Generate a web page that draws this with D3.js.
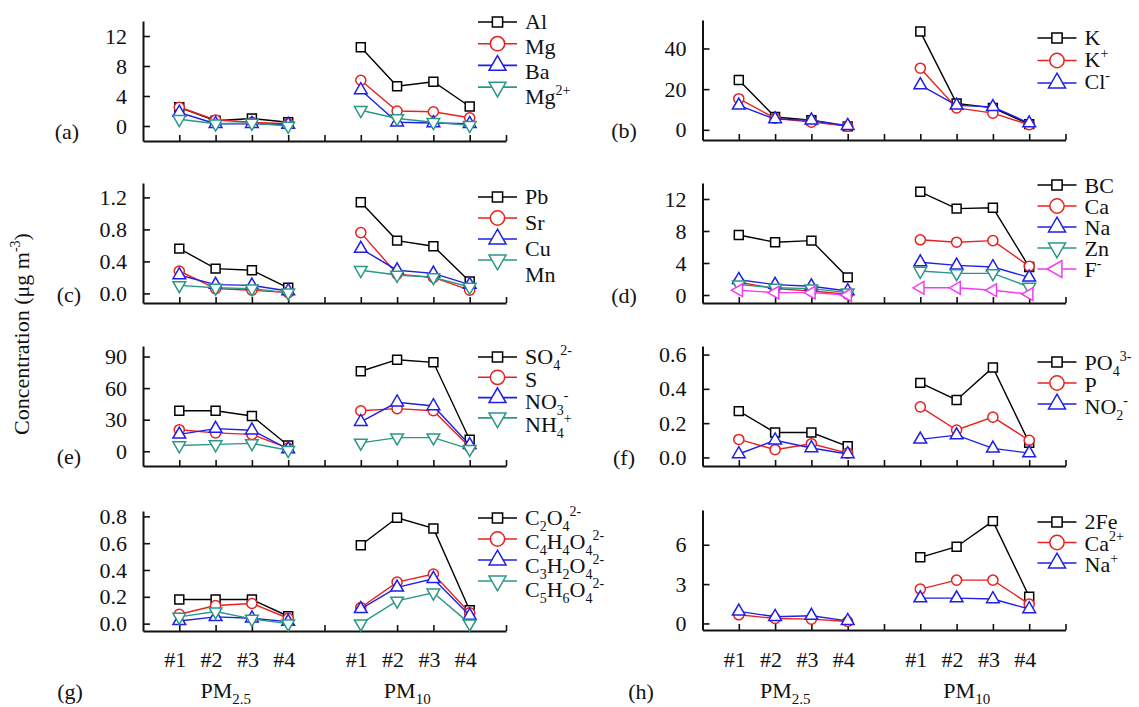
<!DOCTYPE html>
<html>
<head>
<meta charset="utf-8">
<script src="https://cdn.jsdelivr.net/npm/d3@7"></script>
<style>
  body { margin: 0; background: #fff; }
  text { font-family: "Liberation Serif", "Times New Roman", serif; }
</style>
</head>
<body>
<script>
var svgWidth = 1139;
var svgHeight = 707;

// categories
var sites = ["#1", "#2", "#3", "#4"];
var groups = ["PM_2.5", "PM_10"];
var seriesColors = ["#000000", "#e8211f", "#1f1fe6", "#2a9886", "#f23cf2"];

// (a)
var aNames = ["Al", "Mg", "Ba", "Mg^2+"];
var aPM25 = [[2.5, 0.7, 1.0, 0.5], [2.5, 0.8, 0.5, 0.3], [1.8, 0.3, 0.3, 0.2], [0.9, 0.3, 0.4, 0.0]];
var aPM10 = [[10.5, 5.3, 5.9, 2.6], [6.1, 2.0, 1.9, 1.1], [4.8, 0.5, 0.4, 0.3], [2.1, 1.0, 0.5, 0.1]];
var aTicks = [0, 4, 8, 12];

// (b)
var bNames = ["K", "K^+", "Cl^-"];
var bPM25 = [[24.5, 6.3, 4.7, 1.7], [15.3, 5.7, 3.8, 1.8], [12, 5.3, 4.7, 2.0]];
var bPM10 = [[48.3, 13, 10.8, 2.8], [30.3, 10.8, 8.2, 2.5], [22, 12, 11.3, 3.3]];
var bTicks = [0, 20, 40];

// (c)
var cNames = ["Pb", "Sr", "Cu", "Mn"];
var cPM25 = [[0.56, 0.31, 0.29, 0.07], [0.28, 0.06, 0.04, 0.01], [0.23, 0.11, 0.10, 0.03], [0.10, 0.07, 0.06, 0.01]];
var cPM10 = [[1.14, 0.66, 0.59, 0.15], [0.76, 0.24, 0.20, 0.04], [0.56, 0.29, 0.25, 0.11], [0.29, 0.23, 0.20, 0.08]];
var cTicks = [0, 0.4, 0.8, 1.2];

// (d)
var dNames = ["BC", "Ca", "Na", "Zn", "F^-"];
var dPM25 = [[7.5, 6.6, 6.8, 2.2], [1.6, 0.8, 0.5, 0.1], [1.9, 1.3, 1.1, 0.5], [1.3, 0.9, 0.8, 0.3], [0.6, 0.3, 0.3, 0.0]];
var dPM10 = [[12.9, 10.8, 10.9, 3.5], [6.9, 6.6, 6.8, 3.6], [4.1, 3.7, 3.5, 2.2], [3.0, 2.7, 2.7, 1.0], [0.9, 0.9, 0.6, 0.1]];
var dTicks = [0, 4, 8, 12];

// (e)
var eNames = ["SO_4^2-", "S", "NO_3^-", "NH_4^+"];
var ePM25 = [[38.5, 38.5, 33.5, 5.5], [20.5, 17.5, 16, 3], [16, 21.5, 20, 2], [5.5, 6.5, 7.5, 1]];
var ePM10 = [[76, 87, 84.5, 11], [38.5, 40.5, 38.5, 4], [28, 46.5, 43, 6], [8, 13, 13, 2]];
var eTicks = [0, 30, 60, 90];

// (f)
var fNames = ["PO_4^3-", "P", "NO_2^-"];
var fPM25 = [[0.27, 0.145, 0.145, 0.065], [0.105, 0.045, 0.08, 0.025], [0.02, 0.10, 0.055, 0.02]];
var fPM10 = [[0.435, 0.335, 0.525, 0.085], [0.295, 0.16, 0.235, 0.10], [0.105, 0.13, 0.053, 0.025]];
var fTicks = [0, 0.2, 0.4, 0.6];

// (g)
var gNames = ["C_2O_4^2-", "C_4H_4O_4^2-", "C_3H_2O_4^2-", "C_5H_6O_4^2-"];
var gPM25 = [[0.18, 0.18, 0.18, 0.055], [0.07, 0.135, 0.15, 0.04], [0.02, 0.05, 0.04, 0.015], [0.05, 0.09, 0.035, 0.0]];
var gPM10 = [[0.585, 0.79, 0.71, 0.10], [0.12, 0.31, 0.37, 0.08], [0.11, 0.27, 0.335, 0.06], [0.0, 0.17, 0.23, 0.0]];
var gTicks = [0, 0.2, 0.4, 0.6, 0.8];

// (h)
var hNames = ["2Fe", "Ca^2+", "Na^+"];
var hPM25 = [[null, null, null, null], [0.66, 0.38, 0.33, 0.15], [0.92, 0.51, 0.59, 0.2]];
var hPM10 = [[5.04, 5.85, 7.8, 2.04], [2.62, 3.3, 3.3, 1.47], [1.93, 1.93, 1.86, 1.1]];
var hTicks = [0, 3, 6];

// panel layout
var panels = [
  {id: "a", names: aNames, pm25: aPM25, pm10: aPM10, ticks: aTicks, fmt: "d",   dom: [-2, 14],      x: 143,   bottom: 141, leg: [22, 21.7, 22, 25],   lab: [67, 132]},
  {id: "b", names: bNames, pm25: bPM25, pm10: bPM10, ticks: bTicks, fmt: "d",   dom: [-5, 54],      x: 702.5, bottom: 140, leg: [38, 22.5, 38, 22],   lab: [624, 131]},
  {id: "c", names: cNames, pm25: cPM25, pm10: cPM10, ticks: cTicks, fmt: ".1f", dom: [-0.12, 1.38], x: 143,   bottom: 303, leg: [197, 21, 197, 26],   lab: [69, 295]},
  {id: "d", names: dNames, pm25: dPM25, pm10: dPM10, ticks: dTicks, fmt: "d",   dom: [-1, 14],      x: 702.5, bottom: 303, leg: [185, 21, 186, 21],   lab: [624, 296]},
  {id: "e", names: eNames, pm25: ePM25, pm10: ePM10, ticks: eTicks, fmt: "d",   dom: [-14, 100],    x: 143,   bottom: 466, leg: [357, 20.3, 357, 22.7], lab: [69, 457]},
  {id: "f", names: fNames, pm25: fPM25, pm10: fPM10, ticks: fTicks, fmt: ".1f", dom: [-0.05, 0.65], x: 702.5, bottom: 466, leg: [362, 21, 363, 22],   lab: [624, 458]},
  {id: "g", names: gNames, pm25: gPM25, pm10: gPM10, ticks: gTicks, fmt: ".1f", dom: [-0.055, 0.84], x: 143,  bottom: 631, leg: [518, 21, 518, 24],   lab: [70, 692]},
  {id: "h", names: hNames, pm25: hPM25, pm10: hPM10, ticks: hTicks, fmt: "d",   dom: [-0.5, 8.65],  x: 702.5, bottom: 630, leg: [522, 20.5, 522, 21.5], lab: [641, 692]}
];

var panelHeight = 120;
var axisLength = 363;
var fontSize = 22;
var smallSize = 14;

var svg = d3.select("body")
  .append("svg")
  .attr("width", svgWidth)
  .attr("height", svgHeight);

// marker shapes: square, circle, triangle up, triangle down, triangle left
function marker(sel, i, big) {
  var types = [d3.symbolSquare, d3.symbolCircle, d3.symbolTriangle, d3.symbolTriangle, d3.symbolTriangle];
  var sizesSmall = [80, 80, 70, 70, 70];
  var sizesBig = [105, 160, 125, 125, 125];
  var rot = [0, 0, 0, 180, -90];
  var s = big ? sizesBig[i] : sizesSmall[i];
  return sel.append("path")
    .attr("d", d3.symbol().type(types[i]).size(s)())
    .attr("fill", "#fff")
    .attr("stroke", seriesColors[i])
    .attr("stroke-width", 1.5)
    .attr("data-rot", rot[i]);
}

// draws "SO_4^2-" style labels with sub/superscripts
function richText(textSel, str, size, small) {
  var tokens = str.match(/(_[0-9.]+|\^[0-9+\-]+|[^_^]+)/g);
  var shift = 0;
  tokens.forEach(function(t) {
    var target = 0, txt = t, fs = size;
    if (t[0] === "_") { target = small * 0.4; txt = t.slice(1); fs = small; }
    if (t[0] === "^") { target = -small * 0.65; txt = t.slice(1); fs = small; }
    textSel.append("tspan")
      .attr("dy", target - shift)
      .attr("font-size", fs)
      .text(txt);
    shift = target;
  });
}

panels.forEach(function(p) {
  var g = svg.append("g").attr("class", "panel-" + p.id);

  var x = d3.scaleLinear().domain([0, 10]).range([p.x, p.x + axisLength]);
  var y = d3.scaleLinear().domain(p.dom).range([p.bottom, p.bottom - panelHeight]);

  // axes
  var yAxis = d3.axisLeft(y)
    .tickValues(p.ticks)
    .tickSizeInner(-7)
    .tickSizeOuter(0)
    .tickPadding(16)
    .tickFormat(d3.format(p.fmt));
  var yg = g.append("g")
    .attr("transform", "translate(" + p.x + ",0)")
    .call(yAxis);
  yg.attr("font-size", fontSize).attr("font-family", null);
  yg.selectAll("text").attr("fill", "#111");

  var xAxis = d3.axisBottom(x)
    .tickValues(d3.range(1, 11))
    .tickSizeInner(-6)
    .tickSizeOuter(0)
    .tickFormat("");
  var xg = g.append("g")
    .attr("transform", "translate(0," + p.bottom + ")")
    .call(xAxis);

  [yg, xg].forEach(function(a) {
    a.select(".domain").attr("stroke", "#111").attr("stroke-width", 2);
    a.selectAll(".tick line").attr("stroke", "#111").attr("stroke-width", 1.6);
  });

  // series
  var line = d3.line()
    .defined(function(d) { return d.v !== null; })
    .x(function(d) { return x(d.pos); })
    .y(function(d) { return y(d.v); });

  p.names.forEach(function(name, i) {
    var sets = [
      p.pm25[i].map(function(v, k) { return {pos: k + 1, v: v}; }),
      p.pm10[i].map(function(v, k) { return {pos: k + 6, v: v}; })
    ];
    sets.forEach(function(pts) {
      g.append("path")
        .datum(pts)
        .attr("d", line)
        .attr("fill", "none")
        .attr("stroke", seriesColors[i])
        .attr("stroke-width", 1.4);
      pts.filter(function(d) { return d.v !== null; }).forEach(function(d) {
        var m = marker(g, i, false);
        m.attr("transform", "translate(" + x(d.pos) + "," + y(d.v) + ") rotate(" + m.attr("data-rot") + ")");
      });
    });

    // legend
    var my = p.leg[0] + i * p.leg[1];
    var ty = p.leg[2] + i * p.leg[3];
    g.append("line")
      .attr("x1", p.x + 335).attr("x2", p.x + 374)
      .attr("y1", my).attr("y2", my)
      .attr("stroke", seriesColors[i])
      .attr("stroke-width", 1.6);
    var lm = marker(g, i, true);
    lm.attr("transform", "translate(" + (p.x + 354.5) + "," + my + ") rotate(" + lm.attr("data-rot") + ")");
    var t = g.append("text")
      .attr("x", p.x + 382)
      .attr("y", ty + 7)
      .attr("font-size", fontSize)
      .attr("fill", "#111");
    richText(t, name, fontSize, smallSize);
  });

  // panel letter
  g.append("text")
    .attr("x", p.lab[0])
    .attr("y", p.lab[1] + 7)
    .attr("text-anchor", "middle")
    .attr("font-size", fontSize)
    .attr("fill", "#111")
    .text("(" + p.id + ")");

  // bottom category labels
  if (p.id === "g" || p.id === "h") {
    groups.forEach(function(gr, gi) {
      sites.forEach(function(s, k) {
        g.append("text")
          .attr("x", x(k + 1 + gi * 5) - 4)
          .attr("y", 667)
          .attr("text-anchor", "middle")
          .attr("font-size", fontSize)
          .attr("fill", "#111")
          .text(s);
      });
      var gt = g.append("text")
        .attr("x", x(2.5 + gi * 5) - 8)
        .attr("y", 698)
        .attr("text-anchor", "middle")
        .attr("font-size", fontSize)
        .attr("fill", "#111");
      richText(gt, gr, fontSize, 15);
    });
  }
});

// shared y label
var yl = svg.append("text")
  .attr("transform", "translate(29,334) rotate(-90)")
  .attr("text-anchor", "middle")
  .attr("font-size", fontSize)
  .attr("fill", "#111");
richText(yl, "Concentration (\u03bcg m^-3)", fontSize, smallSize);
</script>
</body>
</html>
